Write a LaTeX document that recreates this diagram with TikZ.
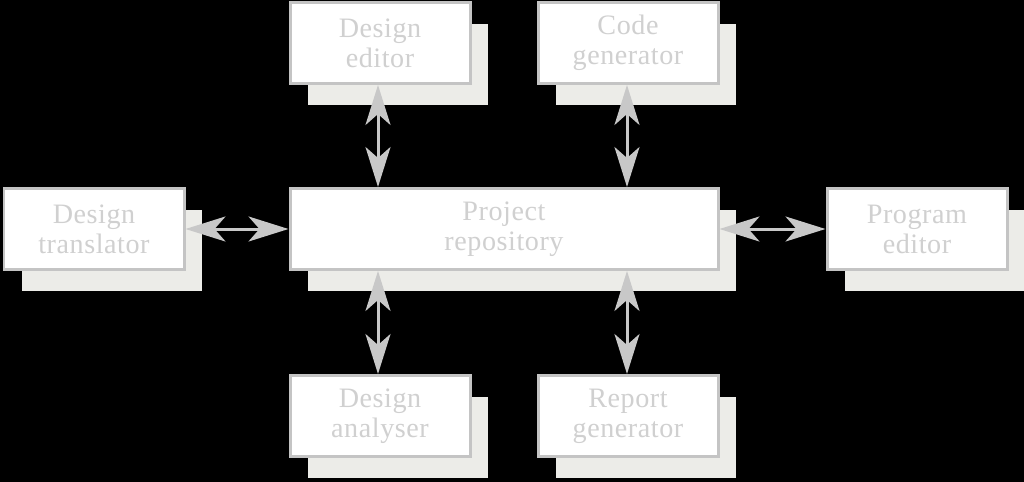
\documentclass[tikz,border=0pt]{standalone}
\usepackage{fontspec}
\setmainfont{Liberation Serif}[LetterSpace=2]
\usetikzlibrary{arrows.meta,shadows}
\definecolor{boxline}{HTML}{C4C4C4}
\definecolor{boxtext}{HTML}{D0D0D0}
\definecolor{shade}{HTML}{ECECE8}
\definecolor{link}{HTML}{C8C8C8}
\tikzset{
	tool/.style={draw=boxline, line width=0.06cm, fill=white, text=boxtext,
		minimum width=3.6cm, minimum height=1.62cm, align=center,
		font=\fontsize{16}{17}\selectfont,
		drop shadow={shadow xshift=0.36cm, shadow yshift=-0.42cm, fill=shade, opacity=1}},
	both/.style={draw=link, line width=0.06cm,
		{Stealth[length=0.8cm,width=0.5cm,inset=0.22cm]}-{Stealth[length=0.8cm,width=0.5cm,inset=0.22cm]}}
}
\begin{document}
\begin{tikzpicture}
			\fill[black] (0,0) rectangle (20.48,-9.64);
			\useasboundingbox (0,0) rectangle (20.48,-9.64);
			
			\node[tool] (ded) at (7.6,-0.86) {Design\\editor};
			\node[tool] (cgen) at (12.56,-0.86) {Code\\generator};
			
			\node[tool] (trans) at (1.88,-4.58) {Design\\translator};
			\node[tool, minimum width=8.56cm] (repo) at (10.08,-4.58) {Project\\repository};
			\node[tool] (prog) at (18.34,-4.58) {Program\\editor};
			
			\node[tool] (ana) at (7.6,-8.32) {Design\\analyser};
			\node[tool] (rgen) at (12.56,-8.32) {Report\\generator};
			
			\draw[both] ([xshift=-0.04cm]ded.south) -- ([xshift=-0.04cm]ded.south |- repo.north);
			\draw[both] ([xshift=-0.02cm]cgen.south) -- ([xshift=-0.02cm]cgen.south |- repo.north);
			\draw[both] (trans.east) -- (repo.west);
			\draw[both] (repo.east) -- (prog.west);
			\draw[both] ([xshift=-0.04cm]ana.north) -- ([xshift=-0.04cm]ana.north |- repo.south);
			\draw[both] ([xshift=-0.02cm]rgen.north) -- ([xshift=-0.02cm]rgen.north |- repo.south);
\end{tikzpicture}
\end{document}
